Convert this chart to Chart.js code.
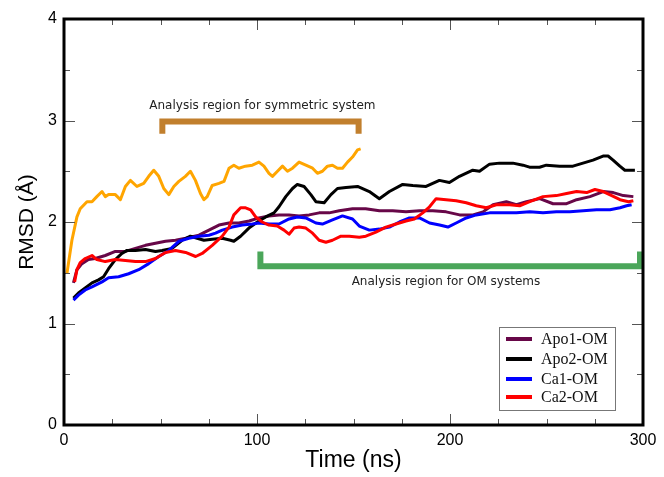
<!DOCTYPE html>
<html><head><meta charset="utf-8">
<script src="https://cdn.jsdelivr.net/npm/chart.js@4.4.1/dist/chart.umd.min.js"></script>
<style>html,body{margin:0;padding:0;background:#fff}#wrap{width:664px;height:477px;position:relative}</style>
</head><body><div id="wrap"><canvas id="c" width="664" height="477"></canvas></div>
<script>
// ---- data (time in ns, RMSD in Å) ----
const symTime = [1.5,4.1,6.7,8.4,11.9,14.5,17,19.7,21.4,23.1,26.6,29.2,31.8,34.4,37.8,41.3,43.9,46.5,49.1,51.7,54.3,56.9,59.5,62.9,65.5,68.1,70.7,72.5,74.2,76.8,80.3,82.9,85.5,88,90.6,94,97.6,101,103.6,106.2,108,110.6,113.2,115.8,118.4,121.8,125.3,128.8,131.3,133.9,136.5,139.1,141.7,144.3,146.9,149.5,152.1,153.7];
const symRmsd = [1.49,1.82,2.05,2.13,2.20,2.20,2.25,2.30,2.25,2.27,2.27,2.22,2.35,2.41,2.35,2.38,2.45,2.51,2.45,2.33,2.27,2.35,2.40,2.45,2.50,2.41,2.28,2.22,2.25,2.36,2.38,2.40,2.53,2.56,2.53,2.55,2.56,2.59,2.55,2.48,2.45,2.50,2.55,2.50,2.53,2.59,2.56,2.53,2.48,2.50,2.55,2.56,2.53,2.53,2.59,2.64,2.71,2.72];

const apo1Time = [4.9,6.7,9.3,12.7,16.2,21.4,26.6,31.8,37,42.2,47.4,52.6,57.8,63,69.9,75.1,80.3,85.5,90.6,95.9,101,106.2,111.4,116.6,121.8,127,132.2,137.4,142.6,149.5,156.3,163.4,170.3,177.2,184.2,191.1,198,205,211.9,217.1,222.3,229.2,234.4,239.6,246.5,253.4,260.4,265.6,272.5,279.4,284.6,289.8,295];
const apo1Rmsd = [1.40,1.53,1.59,1.63,1.64,1.67,1.71,1.71,1.74,1.77,1.79,1.81,1.82,1.84,1.87,1.92,1.97,1.99,1.99,2.01,2.04,2.06,2.07,2.07,2.06,2.07,2.09,2.09,2.11,2.13,2.13,2.11,2.11,2.10,2.11,2.11,2.10,2.07,2.07,2.10,2.17,2.20,2.17,2.20,2.23,2.18,2.18,2.22,2.25,2.30,2.29,2.26,2.25];

const apo2Time = [4.9,7.5,11,14.5,17.9,20.5,23.1,26.6,30,32.7,37,42.2,47.4,50.8,56,61.2,65.5,69,72.5,76.8,82,86.3,88,91.5,95.8,100.2,104.5,108.8,111.4,114.9,118.4,120.9,124.4,127.9,130.5,134.8,138.3,141.7,146.1,152.1,158.2,163.4,168.6,175.5,180.7,187.6,194.5,199.7,204.9,211.8,215.3,220.5,225.6,232.6,237.8,241.2,246.4,249.9,256.8,263.7,268.9,274.1,279.3,281.9,284.5,288,290.6,293.2,295.8];
const apo2Rmsd = [1.25,1.30,1.35,1.40,1.43,1.46,1.54,1.63,1.69,1.72,1.72,1.73,1.71,1.72,1.74,1.82,1.86,1.84,1.82,1.83,1.84,1.82,1.81,1.86,1.94,2.00,2.05,2.09,2.15,2.25,2.33,2.37,2.35,2.27,2.20,2.19,2.27,2.33,2.34,2.35,2.30,2.23,2.30,2.37,2.36,2.35,2.41,2.39,2.45,2.51,2.50,2.57,2.58,2.58,2.56,2.54,2.54,2.56,2.55,2.55,2.58,2.61,2.65,2.65,2.61,2.55,2.51,2.51,2.51];

const ca1Time = [4.9,7.5,11,14.5,19.7,23.1,28.3,33.5,38.7,43.9,49.1,54.3,59.5,64.7,69.9,75.1,78.5,82,87.2,92.4,97.6,101,106.2,111.4,116.6,120.9,125.3,130.5,133.9,139.1,144.3,149.5,153,158.2,163.4,168.6,173.8,179,184.2,189.4,194.6,198.9,203.2,208.4,213.6,220.5,227.4,234.4,241.3,248.2,255.1,262.1,269,275.9,282.9,288.1,291.5,294.1];
const ca1Rmsd = [1.23,1.28,1.33,1.36,1.41,1.45,1.46,1.49,1.53,1.59,1.66,1.72,1.81,1.84,1.86,1.87,1.89,1.92,1.95,1.97,1.98,1.99,1.98,1.98,2.03,2.05,2.04,1.99,1.98,2.02,2.06,2.03,1.96,1.92,1.93,1.95,2.00,2.04,2.04,1.99,1.97,1.95,1.99,2.04,2.07,2.09,2.09,2.09,2.10,2.09,2.10,2.10,2.11,2.12,2.12,2.14,2.16,2.17];

const ca2Time = [5.5,6.7,8.4,11,14.5,17,21.4,26.6,31.8,37,42.2,47.4,52.6,57.8,63,68.2,71.6,76.8,82,85.5,88,91.5,94.1,96.7,99.3,102.7,106.2,110.5,114,116.6,119.2,121.8,125.3,128.8,132.2,135.7,139.1,143.5,147.8,153,156.4,161.6,166.8,172,177.2,181.5,185.9,189.4,192.8,198,203.2,208.4,213.6,218.8,224,230.9,236.1,241.3,248.2,255.1,260.4,265.6,270.8,275.1,279.4,283.8,288.1,292.5,295];
const ca2Rmsd = [1.41,1.53,1.60,1.64,1.67,1.63,1.61,1.63,1.62,1.61,1.61,1.64,1.70,1.72,1.70,1.66,1.69,1.77,1.86,1.95,2.07,2.14,2.14,2.12,2.05,2.00,1.97,1.96,1.92,1.88,1.94,1.95,1.94,1.89,1.82,1.80,1.82,1.86,1.86,1.85,1.86,1.90,1.95,1.98,2.01,2.03,2.09,2.15,2.23,2.22,2.21,2.19,2.16,2.14,2.17,2.17,2.16,2.20,2.25,2.26,2.28,2.30,2.29,2.32,2.30,2.26,2.22,2.20,2.21];

const xTickValues = [0,100,200,300];
const yTickValues = [0,1,2,3,4];
const legendLabels = ['Apo1-OM','Apo2-OM','Ca1-OM','Ca2-OM'];

// annotations (data coordinates)
const symRegionLabel = 'Analysis region for symmetric system';
const omRegionLabel = 'Analysis region for OM systems';

function pts(xs, ys){ return xs.map((x,i)=>({x:x, y:ys[i]})); }

const C_APO1='#670748', C_APO2='#000000', C_CA1='#0000ff', C_CA2='#ff0000', C_SYM='#ffa500';

const overlay = {
  id:'overlay',
  beforeDatasetsDraw(chart){
    const ctx=chart.ctx, xs=chart.scales.x, ys=chart.scales.y;
    ctx.save();
    ctx.lineJoin='miter'; ctx.lineCap='butt';
    // symmetric bracket
    ctx.strokeStyle='#c17f2d'; ctx.lineWidth=6;
    let xl=xs.getPixelForValue(49.4)+3, xr=xs.getPixelForValue(154.2)-3, yb=ys.getPixelForValue(2.99), yl=ys.getPixelForValue(2.87);
    ctx.beginPath(); ctx.moveTo(xl,yl); ctx.lineTo(xl,yb); ctx.lineTo(xr,yb); ctx.lineTo(xr,yl); ctx.stroke();
    // OM bracket
    ctx.strokeStyle='#4ba65a'; ctx.lineWidth=6;
    xl=xs.getPixelForValue(100.2)+3; xr=xs.getPixelForValue(300)-3; yb=ys.getPixelForValue(1.565); yl=ys.getPixelForValue(1.71);
    ctx.beginPath(); ctx.moveTo(xl,yl); ctx.lineTo(xl,yb); ctx.lineTo(xr,yb); ctx.lineTo(xr,yl); ctx.stroke();
    // labels
    ctx.fillStyle='#222'; ctx.font='12px "DejaVu Sans"'; ctx.textAlign='center'; ctx.textBaseline='middle';
    ctx.fillText(symRegionLabel, xs.getPixelForValue(102.8), ys.getPixelForValue(3.146));
    ctx.fillText(omRegionLabel, xs.getPixelForValue(197.9), ys.getPixelForValue(1.41));
    ctx.restore();
  },
  afterDatasetsDraw(chart){
    const ctx=chart.ctx, xs=chart.scales.x, ys=chart.scales.y, a=chart.chartArea;
    ctx.save();
    // ticks inward on all four sides
    ctx.strokeStyle='#555'; ctx.lineWidth=1;
    ctx.beginPath();
    for(let v=0; v<=300; v+=25){
      const len = (v%100===0)?11:6; const px=Math.round(xs.getPixelForValue(v))+0.5;
      ctx.moveTo(px,a.bottom); ctx.lineTo(px,a.bottom-len);
      ctx.moveTo(px,a.top); ctx.lineTo(px,a.top+len);
    }
    for(let v=0; v<=4; v+=0.5){
      const len = (v%1===0)?11:6; const py=Math.round(ys.getPixelForValue(v))+0.5;
      ctx.moveTo(a.left,py); ctx.lineTo(a.left+len,py);
      ctx.moveTo(a.right,py); ctx.lineTo(a.right-len,py);
    }
    ctx.stroke();
    // frame
    ctx.strokeStyle='#000'; ctx.lineWidth=3;
    ctx.strokeRect(a.left, a.top, a.right-a.left, a.bottom-a.top);
    // legend
    const bx=a.right-144, by=a.bottom-98, bw=116, bh=83;
    ctx.fillStyle='#fff'; ctx.fillRect(bx,by,bw,bh);
    ctx.strokeStyle='#777'; ctx.lineWidth=1;
    ctx.strokeRect(bx+0.5,by+0.5,bw,bh);
    const rows=[12,32,52,70];
    ctx.font='16px "Liberation Serif"'; ctx.textAlign='left'; ctx.textBaseline='middle';
    chart.data.datasets.forEach(ds=>{
      if(ds.legendRow===undefined) return;
      const y=by+rows[ds.legendRow];
      ctx.strokeStyle=ds.borderColor; ctx.lineWidth=4;
      ctx.beginPath(); ctx.moveTo(bx+7,y); ctx.lineTo(bx+33,y); ctx.stroke();
      ctx.fillStyle='#111'; ctx.fillText(ds.label, bx+42, y+1);
    });
    ctx.restore();
  }
};

new Chart(document.getElementById('c'), {
  type:'line',
  data:{ datasets:[
    {label:legendLabels[3], data:pts(ca2Time,ca2Rmsd), borderColor:C_CA2, order:0, legendRow:3},
    {label:legendLabels[2], data:pts(ca1Time,ca1Rmsd), borderColor:C_CA1, order:1, legendRow:2},
    {label:legendLabels[1], data:pts(apo2Time,apo2Rmsd), borderColor:C_APO2, order:2, legendRow:1},
    {label:legendLabels[0], data:pts(apo1Time,apo1Rmsd), borderColor:C_APO1, order:3, legendRow:0},
    {label:'Symmetric', data:pts(symTime,symRmsd), borderColor:C_SYM, order:4}
  ]},
  options:{
    responsive:false, animation:false, devicePixelRatio:1,
    layout:{padding:{top:19, right:21, left:0, bottom:0}},
    elements:{point:{radius:0}, line:{borderWidth:3, tension:0, borderJoinStyle:'round'}},
    plugins:{legend:{display:false}, tooltip:{enabled:false}},
    scales:{
      x:{type:'linear', min:0, max:300,
        afterBuildTicks(s){ s.ticks = xTickValues.map(v=>({value:v})); },
        afterFit(s){ s.height=52; },
        grid:{display:false, drawTicks:false}, border:{display:false},
        ticks:{color:'#000', font:{family:'"Liberation Sans"', size:16}, padding:6, maxRotation:0},
        title:{display:true, text:'Time (ns)', color:'#000', font:{family:'"Liberation Sans"', size:23}, padding:{top:0,bottom:3}}
      },
      y:{type:'linear', min:0, max:4,
        afterBuildTicks(s){ s.ticks = yTickValues.map(v=>({value:v})); },
        afterFit(s){ s.width=64; },
        grid:{display:false, drawTicks:false}, border:{display:false},
        ticks:{color:'#000', font:{family:'"Liberation Sans"', size:16}, padding:7},
        title:{display:true, text:'RMSD (Å)', color:'#000', font:{family:'"Liberation Sans"', size:21}, padding:{top:15,bottom:0}}
      }
    }
  },
  plugins:[overlay]
});
</script></body></html>
